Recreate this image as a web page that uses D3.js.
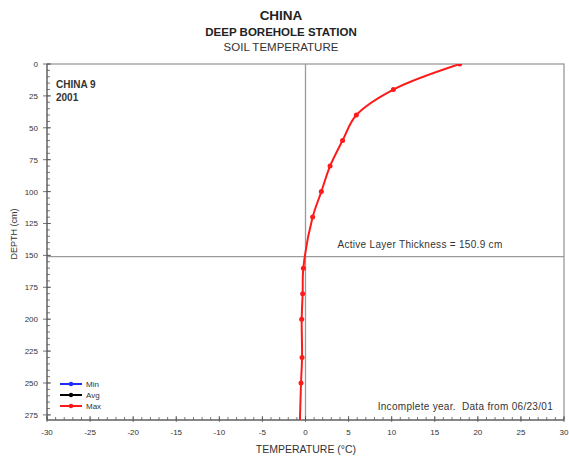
<!DOCTYPE html>
<html><head><meta charset="utf-8">
<script src="https://cdn.jsdelivr.net/npm/d3@7"></script>
<style>
body{margin:0;background:#fff;}
svg{font-family:"Liberation Sans",Arial,sans-serif;}
</style></head>
<body><svg id="c" width="569" height="464"></svg>
<script>
const depths = [0, 20, 40, 60, 80, 100, 120, 160, 180, 200, 230, 250, 300];
const maxTemps = [17.9, 10.2, 5.9, 4.3, 2.85, 1.84, 0.83, -0.25, -0.33, -0.44, -0.4, -0.52, -0.73];
const seriesNames = ["Min", "Avg", "Max"];
const seriesColors = ["#1f2bff", "#000000", "#ff1a1a"];
const xTicks = [-30, -25, -20, -15, -10, -5, 0, 5, 10, 15, 20, 25, 30];
const yTicks = [0, 25, 50, 75, 100, 125, 150, 175, 200, 225, 250, 275];
const activeLayer = 150.9;

const svg = d3.select("#c");
const L = 47, R = 564, T = 64, B = 420;
const x = d3.scaleLinear().domain([-30, 30]).range([L, R]);
const y = d3.scaleLinear().domain([0, 279]).range([T, B]);
const grey = "#9a9a9a", txt = "#333";

svg.append("defs").append("clipPath").attr("id","clip")
  .append("rect").attr("x",L).attr("y",T).attr("width",R-L).attr("height",B-T);

// frame
svg.append("rect").attr("x",L).attr("y",T).attr("width",R-L).attr("height",B-T)
  .attr("fill","none").attr("stroke",grey).attr("stroke-width",1.3);

// zero line & active layer line
svg.append("line").attr("x1",x(0)).attr("x2",x(0)).attr("y1",T).attr("y2",B)
  .attr("stroke",grey).attr("stroke-width",1.3);
svg.append("line").attr("x1",L).attr("x2",R).attr("y1",y(activeLayer)).attr("y2",y(activeLayer))
  .attr("stroke",grey).attr("stroke-width",1.3);

// axes
const xMinor = d3.range(-30, 30.01, 1);
const yMinor = d3.range(0, 279, 5);
const gx = svg.append("g");
gx.selectAll("line.mi").data(xMinor).join("line")
  .attr("x1",d=>x(d)).attr("x2",d=>x(d)).attr("y1",B).attr("y2",B-3)
  .attr("stroke","#555").attr("stroke-width",0.8);
gx.selectAll("line.ma").data(xTicks).join("line")
  .attr("x1",d=>x(d)).attr("x2",d=>x(d)).attr("y1",B-4).attr("y2",B+2)
  .attr("stroke","#555").attr("stroke-width",0.8);
gx.selectAll("text").data(xTicks).join("text")
  .attr("x",d=>x(d)).attr("y",B+15).attr("text-anchor","middle")
  .attr("font-size",8).attr("fill",txt).text(d=>d);
svg.append("line").attr("x1",L).attr("x2",R).attr("y1",B).attr("y2",B).attr("stroke","#555").attr("stroke-width",1);

const gy = svg.append("g");
gy.selectAll("line.mi").data(yMinor).join("line")
  .attr("x1",L).attr("x2",L+3).attr("y1",d=>y(d)).attr("y2",d=>y(d))
  .attr("stroke","#555").attr("stroke-width",0.8);
gy.selectAll("line.ma").data(yTicks).join("line")
  .attr("x1",L-4).attr("x2",L+4).attr("y1",d=>y(d)).attr("y2",d=>y(d))
  .attr("stroke","#555").attr("stroke-width",0.8);
gy.selectAll("text").data(yTicks).join("text")
  .attr("x",L-9).attr("y",d=>y(d)+3).attr("text-anchor","end")
  .attr("font-size",8).attr("fill",txt).text(d=>d);
svg.append("line").attr("x1",L).attr("x2",L).attr("y1",T).attr("y2",B).attr("stroke","#555").attr("stroke-width",1);

// titles
svg.append("text").attr("x",281).attr("y",20).attr("text-anchor","middle")
  .attr("font-size",13.5).attr("font-weight","bold").attr("fill","#222").text("CHINA");
svg.append("text").attr("x",281).attr("y",36).attr("text-anchor","middle")
  .attr("font-size",11.5).attr("font-weight","bold").attr("fill","#222").text("DEEP BOREHOLE STATION");
svg.append("text").attr("x",281).attr("y",51).attr("text-anchor","middle")
  .attr("font-size",11.5).attr("fill","#333").text("SOIL TEMPERATURE");

svg.append("text").attr("x",56).attr("y",88).attr("font-size",10).attr("font-weight","bold").attr("fill","#333").text("CHINA 9");
svg.append("text").attr("x",56).attr("y",101).attr("font-size",10).attr("font-weight","bold").attr("fill","#333").text("2001");

svg.append("text").attr("x",420).attr("y",248).attr("text-anchor","middle")
  .attr("font-size",10).attr("letter-spacing",0.3).attr("fill",txt).text("Active Layer Thickness = " + activeLayer + " cm");
svg.append("text").attr("x",553).attr("y",410).attr("text-anchor","end")
  .attr("font-size",10).attr("letter-spacing",0.3).attr("fill",txt).attr("xml:space","preserve").text("Incomplete year.  Data from 06/23/01");

// axis labels
svg.append("text").attr("x",306).attr("y",453).attr("text-anchor","middle")
  .attr("font-size",10.5).attr("fill",txt).text("TEMPERATURE (°C)");
svg.append("text").attr("transform","translate(17,234) rotate(-90)").attr("text-anchor","middle")
  .attr("font-size",9).attr("fill",txt).text("DEPTH (cm)");

// series
const data = depths.map((d,i)=>({d, t:maxTemps[i]}));
const line = d3.line().x(p=>x(p.t)).y(p=>y(p.d)).curve(d3.curveCatmullRom.alpha(0.5));
const gp = svg.append("g").attr("clip-path","url(#clip)");
gp.append("path").datum(data).attr("d",line).attr("fill","none")
  .attr("stroke",seriesColors[2]).attr("stroke-width",2);
gp.selectAll("circle").data(data).join("circle")
  .attr("cx",p=>x(p.t)).attr("cy",p=>y(p.d)).attr("r",2.5).attr("fill",seriesColors[2]);

// legend
const lg = svg.append("g");
seriesNames.forEach((n,i)=>{
  const yy = 384 + i*11;
  lg.append("line").attr("x1",60).attr("x2",82).attr("y1",yy).attr("y2",yy)
    .attr("stroke",seriesColors[i]).attr("stroke-width",2);
  lg.append("circle").attr("cx",71).attr("cy",yy).attr("r",2.2).attr("fill",seriesColors[i]);
  lg.append("text").attr("x",86).attr("y",yy+3).attr("font-size",8).attr("fill",txt).text(n);
});
</script></body></html>
